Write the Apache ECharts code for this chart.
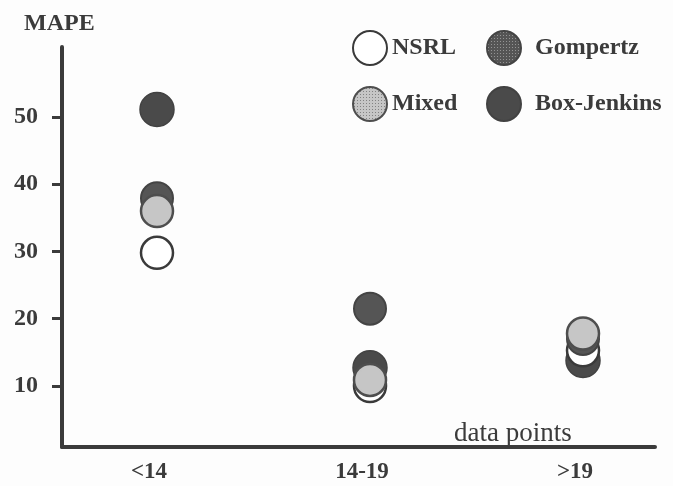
<!DOCTYPE html>
<html>
<head>
<meta charset="utf-8">
<script src="https://cdn.jsdelivr.net/npm/echarts@6/dist/echarts.min.js"></script>
<style>
  html, body { margin: 0; padding: 0; background: #fdfdfd; }
  #chart { width: 673px; height: 486px; }
</style>
</head>
<body>
<div id="chart"></div>
<script>
// data
const categories = ['<14', '14-19', '>19']
const yTicks = [10, 20, 30, 40, 50]
const nsrl = [29.8, 10.0, 15.3]
const gompertz = [37.9, 21.5, 17.0]
const mixed = [36.0, 10.9, 17.8]
const boxJenkins = [51.1, 12.7, 13.8]

const ink = '#3b3b3b'
const font = 'Liberation Serif'

// dotted screen fill like the printed circles
function dotPattern(bg, dot) {
  const c = document.createElement('canvas')
  c.width = 3
  c.height = 3
  const ctx = c.getContext('2d')
  ctx.fillStyle = bg
  ctx.fillRect(0, 0, 3, 3)
  ctx.fillStyle = dot
  ctx.fillRect(1, 1, 1, 1)
  return { image: c, repeat: 'repeat' }
}

const toPoints = (vals) => vals.map((v, i) => [i + 1, v])

const chart = echarts.init(document.getElementById('chart'), null, { renderer: 'canvas' })

const legendText = { fontFamily: font, fontSize: 24, fontWeight: 'bold', color: ink }

const option = {
  backgroundColor: '#fdfdfd',
  animation: false,
  title: [
    {
      text: 'MAPE', left: 19, top: 7,
      textStyle: { fontFamily: font, fontSize: 24, fontWeight: 'bold', color: ink }
    },
    {
      text: 'data points', left: 449, top: 415,
      textStyle: { fontFamily: font, fontSize: 27, fontWeight: 'normal', color: ink }
    }
  ],
  legend: [
    {
      orient: 'vertical', left: 347, top: 25,
      itemWidth: 34, itemHeight: 34, itemGap: 20,
      data: ['NSRL', 'Mixed'],
      selectedMode: false,
      textStyle: legendText
    },
    {
      orient: 'vertical', left: 481, top: 25,
      itemWidth: 34, itemHeight: 34, itemGap: 20,
      data: ['Gompertz', 'Box-Jenkins'],
      selectedMode: false,
      textStyle: Object.assign({ padding: [0, 0, 0, 9] }, legendText)
    }
  ],
  grid: { left: 62, right: 18, top: 47, bottom: 39, containLabel: false },
  xAxis: {
    type: 'value',
    min: 0.554,
    max: 3.338,
    splitLine: { show: false },
    axisLine: { show: true, lineStyle: { color: ink, width: 4 } },
    axisTick: { show: false },
    axisLabel: {
      customValues: [1, 2, 3],
      formatter: (v) => categories[Math.round(v) - 1],
      margin: 14,
      padding: [0, 16, 0, 0],
      fontFamily: font, fontSize: 23, fontWeight: 'bold', color: ink
    }
  },
  yAxis: {
    type: 'value',
    min: 0.93,
    max: 60.4,
    splitLine: { show: false },
    axisLine: { show: true, lineStyle: { color: ink, width: 4 } },
    axisTick: { show: true, customValues: yTicks, length: 10, lineStyle: { color: ink, width: 3 } },
    axisLabel: {
      customValues: yTicks,
      margin: 24,
      fontFamily: font, fontSize: 24, fontWeight: 'bold', color: ink
    }
  },
  // drawing order: back to front
  series: [
    {
      name: 'Box-Jenkins', type: 'scatter', symbol: 'circle', symbolSize: 34,
      itemStyle: { color: '#4a4a4a', borderColor: '#424242', borderWidth: 1.5, opacity: 1 },
      data: toPoints(boxJenkins)
    },
    {
      name: 'NSRL', type: 'scatter', symbol: 'circle', symbolSize: 32,
      itemStyle: { color: '#ffffff', borderColor: '#3a3a3a', borderWidth: 2.5, opacity: 1 },
      data: toPoints(nsrl)
    },
    {
      name: 'Gompertz', type: 'scatter', symbol: 'circle', symbolSize: 32,
      itemStyle: { color: dotPattern('#555555', '#949494'), borderColor: '#444444', borderWidth: 2, opacity: 1 },
      data: toPoints(gompertz)
    },
    {
      name: 'Mixed', type: 'scatter', symbol: 'circle', symbolSize: 32,
      itemStyle: { color: dotPattern('#c6c6c6', '#828282'), borderColor: '#4e4e4e', borderWidth: 2.5, opacity: 1 },
      data: toPoints(mixed)
    }
  ]
}

chart.setOption(option)
</script>
</body>
</html>
